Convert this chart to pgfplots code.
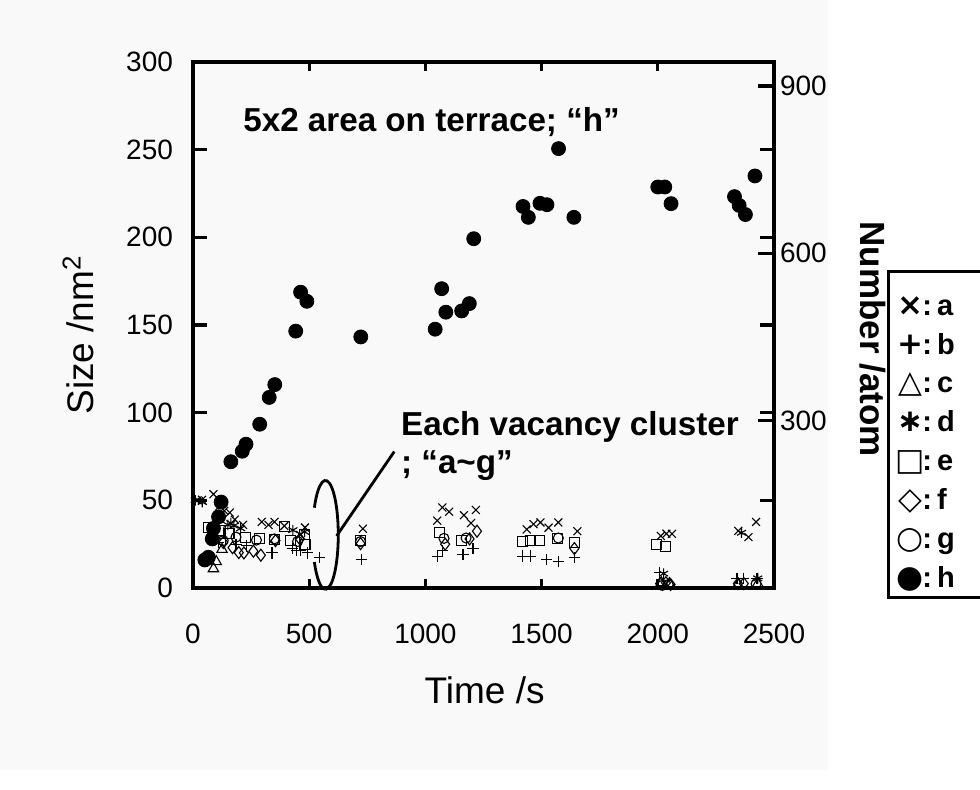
\documentclass[border=0pt]{standalone}
\usepackage{pgfplots}
\pgfplotsset{compat=1.18}
\usepackage{fontspec}
\setmainfont{Liberation Sans}
\newfontfamily\symfont{DejaVu Sans}
\definecolor{bgc}{RGB}{249,249,249}
\newcommand\legline[2]{\makebox[12pt][c]{\symfont\fontsize{15.5}{15.5}\selectfont #1}:\hspace{2.5pt}#2}
\begin{document}
\begin{tikzpicture}
\useasboundingbox (0,0) rectangle (490pt,395pt);
\fill[bgc] (0,10pt) rectangle (414pt,395pt);
\begin{axis}[
  at={(96.5pt,101pt)}, anchor=south west,
  width=290.5pt, height=263pt, scale only axis,
  xmin=0, xmax=2500, ymin=0, ymax=300,
  xtick={0,500,...,2500}, ytick={0,50,...,300},
  tick align=inside,
  axis line style={line width=1.6pt},
  tick style={black, line width=1.6pt},
  xtick style={/pgfplots/major tick length=4.5pt},
  ytick style={/pgfplots/major tick length=7pt},
  xticklabel style={yshift=-14.5pt},
  yticklabel style={xshift=-6.5pt},
  ticklabel style={font=\fontsize{14}{16}\selectfont},
  /pgf/number format/assume math mode=true,
  /pgf/number format/set thousands separator={},
  clip=false,
]
\addplot[only marks, black, line width=0.55pt, mark=x, mark size=2.8pt] coordinates {(20,50) (39,50.3) (88,53.5) (114,46.7) (135,44) (158,43) (180,39) (215,36) (296,37.7) (325,36) (351,37.7) (393,35.4) (461,30.3) (482,34.5) (731,33.8) (1051,38.4) (1073,45.9) (1102,43.5) (1166,41.5) (1196,37) (1217,44.5) (1436,33.4) (1465,36.4) (1495,37.4) (1530,34.4) (1572,37.4) (1654,32.4) (2013,29.7) (2037,31) (2061,30.9) (2346,32.6) (2390,29) (2423,37.7)};
\addplot[only marks, black, line width=0.55pt, mark=+, mark size=2.8pt] coordinates {(95,30) (110,26) (140,28) (185,25) (230,24) (340,20) (427,22.3) (444,21.2) (461,21.2) (493,20) (544,17.5) (726,16.2) (1051,18.2) (1073,21.2) (1162,19.2) (1205,22.3) (1418,18.2) (1453,18.2) (1521,16.2) (1572,15.2) (1641,17.2) (2007,9) (2341,5.5) (2367,5.5) (2427,5.5)};
\addplot[only marks, black, line width=0.55pt, mark=triangle, mark size=3pt] coordinates {(88,11) (100,15) (125,22) (2015,3) (2050,2.5) (2345,2) (2430,2.5)};
\addplot[only marks, black, line width=0.55pt, mark=asterisk, mark size=2.6pt] coordinates {(10,50) (40,49) (98,36) (150,36) (163,37) (176,35.5) (205,34) (430,33) (480,32) (2025,8.2) (2360,31.5) (2430,5.5)};
\addplot[only marks, black, line width=0.55pt, mark=square, mark size=2.5pt] coordinates {(66,34.5) (85,31) (118,33) (155,31) (225,29) (285,28.4) (351,27.7) (395,35.3) (421,27.2) (479,30.3) (482,24.8) (721,27.3) (1060,31.8) (1154,27.3) (1418,26.3) (1453,26.9) (1490,27.3) (1569,28.3) (1641,25.7) (1996,24.8) (2035,23.6)};
\addplot[only marks, black, line width=0.55pt, mark=diamond, mark size=3pt] coordinates {(130,26) (170,23) (197,20.2) (219,20) (260,21) (292,18.7) (355,27) (460,28) (721,25.3) (1085,25) (1190,28) (1222,32.4) (1641,22.5) (2010,2.5) (2035,3) (2055,2) (2345,2.5) (2370,2.5)};
\addplot[only marks, black, line width=0.55pt, mark=o, mark size=2.5pt] coordinates {(75,28) (130,27) (185,29) (273,27.3) (350,28) (450,26.5) (721,26.5) (1080,28.3) (1175,28.5) (1572,28.5) (2020,1.5) (2045,2) (2423,2.4)};
\addplot[only marks, black, mark=*, mark size=3.5pt, mark options={fill=black, draw=black}] coordinates {(51,16) (66,17.5) (83,28) (88,34) (110,40.6) (121,49) (163,72) (212,78) (228,82) (287,93.4) (328,108.7) (352,116) (442,146.5) (463,168.7) (490,163.5) (722,143.2) (1042,147.6) (1070,170.7) (1088,157.3) (1156,158) (1189,162.2) (1208,199.2) (1420,217.6) (1443,211.4) (1493,219.4) (1523,218.6) (1573,250.6) (1639,211.4) (2000,228.7) (2030,228.7) (2057,219.2) (2330,223.2) (2350,218.2) (2377,213) (2418,235)};
\draw[line width=1.4pt] (axis cs:570,30.3) ++(150:6.4pt and 27.2pt) arc[start angle=150,end angle=-150,x radius=6.4pt,y radius=27.2pt];
\draw[line width=1.4pt] (axis cs:618,29.7) -- (axis cs:866,77.8);
\node[anchor=west, font=\bfseries\fontsize{16.6}{19}\selectfont, inner sep=0pt] at (axis cs:215,265.5) {5x2 area on terrace; “h”};
\node[anchor=west, font=\bfseries\fontsize{16.6}{19}\selectfont, inner sep=0pt] at (axis cs:894,91.7) {Each vacancy cluster};
\node[anchor=west, font=\bfseries\fontsize{16.6}{19}\selectfont, inner sep=0pt] at (axis cs:894,70) {; “a\textasciitilde g”};
\node[font=\fontsize{18.5}{21}\selectfont] at (rel axis cs:0.502,-0.194) {Time /s};
\node[font=\fontsize{18.5}{21}\selectfont, rotate=90] at (rel axis cs:-0.198,0.481) {Size /nm\textsuperscript{2}};
\node[font=\bfseries\fontsize{17.5}{20}\selectfont, rotate=-90] at (rel axis cs:1.170,0.473) {Number /atom};
\end{axis}
\begin{axis}[
  at={(96.5pt,101pt)}, anchor=south west,
  width=290.5pt, height=263pt, scale only axis,
  xmin=0, xmax=2500, ymin=0, ymax=943,
  axis x line=none, axis y line*=right,
  ytick={300,600,900},
  tick align=inside, major tick length=8pt,
  axis line style={line width=1.6pt},
  tick style={black, line width=1.6pt},
  yticklabel style={font=\fontsize{14}{16}\selectfont, xshift=-0.5pt},
  /pgf/number format/assume math mode=true,
]
\addplot[draw=none] coordinates {(0,0)};
\end{axis}
\draw[line width=1.5pt] (444pt,259pt) rectangle (500pt,96pt);
\node[anchor=north west, inner sep=0pt, text width=50pt, align=left, font=\bfseries\fontsize{14.5}{19.45}\selectfont] at (449pt,247pt) {\legline{×}{a}\\ \legline{+}{b}\\ \legline{△}{c}\\ \legline{∗}{d}\\ \legline{□}{e}\\ \legline{◇}{f}\\ \legline{○}{g}\\ \legline{●}{h}};
\end{tikzpicture}
\end{document}
